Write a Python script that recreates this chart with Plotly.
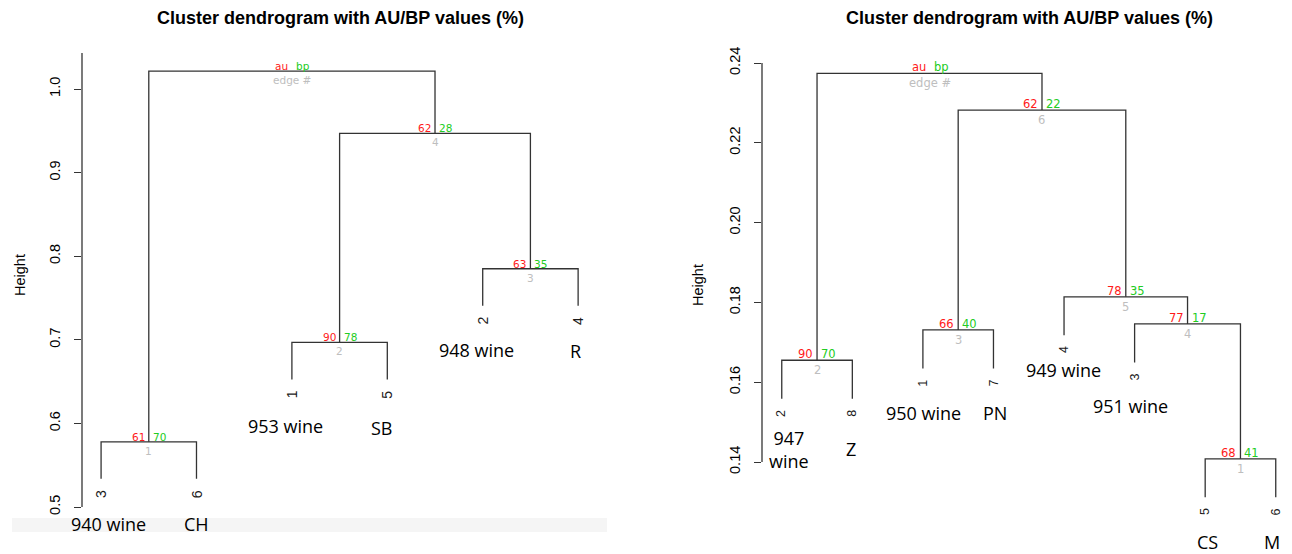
import plotly.graph_objects as go

# ---------------- data ----------------
# Left dendrogram
L_leaf_ids = [3, 6, 1, 5, 2, 4]                      # leaf numbers, in plotted order
L_leaf_names = ["940 wine", "CH", "953 wine", "SB", "948 wine", "R"]
L_merge = [[-3, -6], [-1, -5], [-2, -4], [2, 3], [1, 4]]   # hclust-style merges (edge # = row)
L_height = [0.578, 0.697, 0.785, 0.947, 1.0215]
L_au = [61, 90, 63, 62]
L_bp = [70, 78, 35, 28]
L_yticks = [0.5, 0.6, 0.7, 0.8, 0.9, 1.0]
L_yticklabels = ["0.5", "0.6", "0.7", "0.8", "0.9", "1.0"]

# Right dendrogram
R_leaf_ids = [2, 8, 1, 7, 4, 3, 5, 6]
R_leaf_names = ["947<br>wine", "Z", "950 wine", "PN", "949 wine", "951 wine", "CS", "M"]
R_merge = [[-5, -6], [-2, -8], [-1, -7], [-3, 1], [-4, 4], [3, 5], [2, 6]]
R_height = [0.1408, 0.1655, 0.1731, 0.1746, 0.1814, 0.2282, 0.2374]
R_au = [68, 90, 66, 77, 78, 62]
R_bp = [41, 70, 40, 17, 35, 22]
R_yticks = [0.14, 0.16, 0.18, 0.20, 0.22, 0.24]
R_yticklabels = ["0.14", "0.16", "0.18", "0.20", "0.22", "0.24"]

TITLE = "Cluster dendrogram with AU/BP values (%)"

# ---------------- layout / placement (not data) ----------------
W, H = 1292, 554
L_name_pos = [(1.073, 0.4797), (1.996, 0.4797), (2.929, 0.5969), (3.945, 0.5945),
              (4.931, 0.6878), (5.969, 0.6866)]
R_name_pos = [(1.106, 0.14313), (1.978, 0.14326), (3.012, 0.15228), (4.018, 0.15228),
              (4.996, 0.16306), (5.945, 0.15404), (7.037, 0.11995), (7.943, 0.11995)]

LINE_COL = "#333333"
AU_COL = "#FF1A1A"
BP_COL = "#22CC22"
EDGE_COL = "#BEBEBE"


def build(merge, height, leaf_ids):
    pos = {k: i + 1 for i, k in enumerate(leaf_ids)}
    hang = 0.1 * (max(height) - min(height))
    xs, ys = [], []
    node_x = {}
    leaf_end = {}
    for i, (a, b) in enumerate(merge):
        h = height[i]

        def child(c):
            if c < 0:
                leaf_end[-c] = h - hang
                return pos[-c], h - hang
            return node_x[c], height[c - 1]

        xa, ya = child(a)
        xb, yb = child(b)
        xs += [xa, xa, xb, xb, None]
        ys += [ya, h, h, yb, None]
        node_x[i + 1] = (xa + xb) / 2
    return xs, ys, node_x, leaf_end, pos


fig = go.Figure()
annotations = []


def panel(merge, height, leaf_ids, names, name_pos, au, bp, xr, yr, num_size, leaf_size):
    xs, ys, node_x, leaf_end, pos = build(merge, height, leaf_ids)
    fig.add_trace(go.Scatter(x=xs, y=ys, mode="lines", xaxis=xr, yaxis=yr,
                             line=dict(color=LINE_COL, width=1.3), hoverinfo="skip"))
    nf = "DejaVu Sans"
    n = len(merge)
    for i in range(n):
        cx, h = node_x[i + 1], height[i]
        if i < n - 1:
            t_au, t_bp, t_ed = str(au[i]), str(bp[i]), str(i + 1)
        else:
            t_au, t_bp, t_ed = "au", "bp", "edge #"
        annotations.append(dict(x=cx, y=h, xref=xr, yref=yr, text=t_au, showarrow=False,
                                xanchor="right", yanchor="bottom", xshift=-2, yshift=-3,
                                font=dict(family=nf, size=num_size, color=AU_COL)))
        annotations.append(dict(x=cx, y=h, xref=xr, yref=yr, text=t_bp, showarrow=False,
                                xanchor="left", yanchor="bottom", xshift=2, yshift=-3,
                                font=dict(family=nf, size=num_size, color=BP_COL)))
        annotations.append(dict(x=cx, y=h, xref=xr, yref=yr, text=t_ed, showarrow=False,
                                xanchor="center", yanchor="top", yshift=-1,
                                font=dict(family=nf, size=num_size, color=EDGE_COL)))
    for k in leaf_ids:
        annotations.append(dict(x=pos[k], y=leaf_end[k], xref=xr, yref=yr, text=str(k),
                                showarrow=False, textangle=-90, xanchor="center",
                                yanchor="top", yshift=-9,
                                font=dict(family="Liberation Sans", size=leaf_size, color="#1a1a1a")))
    for nm, (px, py) in zip(names, name_pos):
        annotations.append(dict(x=px, y=py, xref=xr, yref=yr, text=nm, showarrow=False,
                                xanchor="center", yanchor="middle", align="center",
                                font=dict(family="Open Sans", size=18, color="black")))


panel(L_merge, L_height, L_leaf_ids, L_leaf_names, L_name_pos, L_au, L_bp, "x", "y", 10.5, 14)
panel(R_merge, R_height, R_leaf_ids, R_leaf_names, R_name_pos, R_au, R_bp, "x2", "y2", 11.5, 12.5)

# titles and axis titles
for cx in (340, 1029):
    annotations.append(dict(x=cx / W, y=1 - 18 / H, xref="paper", yref="paper", text=TITLE,
                            showarrow=False, xanchor="center", yanchor="middle",
                            font=dict(family="Liberation Sans", size=18, color="black", weight="bold")))
for cx, cy in ((20, 275), (698, 285)):
    annotations.append(dict(x=cx / W, y=1 - cy / H, xref="paper", yref="paper", text="Height",
                            showarrow=False, textangle=-90, xanchor="center", yanchor="middle",
                            font=dict(family="Liberation Sans", size=14.5, color="black")))

yax_common = dict(showgrid=False, zeroline=False, showline=False, ticks="outside",
                  ticklen=7, tickwidth=1.2, tickcolor=LINE_COL, tickangle=-90,
                  ticklabelstandoff=8,
                  tickfont=dict(family="Liberation Sans", size=14.5, color="black"),
                  domain=[0, 1], fixedrange=True)

fig.update_layout(
    width=W, height=H, margin=dict(l=0, r=0, t=0, b=0),
    paper_bgcolor="white", plot_bgcolor="white", showlegend=False, hovermode=False,
    xaxis=dict(domain=[82 / W, 597.2 / W], range=[0.8, 6.2], visible=False),
    yaxis=dict(anchor="x", range=[0.44378, 1.10646], tickvals=L_yticks,
               ticktext=L_yticklabels, **yax_common),
    xaxis2=dict(domain=[762 / W, 1.0], range=[0.72, 0.72 + (W - 762) / 70.57], visible=False),
    yaxis2=dict(anchor="x2", range=[0.116942, 0.255789], tickvals=R_yticks,
                ticktext=R_yticklabels, **yax_common),
    annotations=annotations,
    shapes=[
        dict(type="rect", xref="paper", yref="paper", x0=12 / W, x1=607 / W,
             y0=1 - 532 / H, y1=1 - 518 / H, fillcolor="#f5f5f5", line=dict(width=0),
             layer="below"),
        dict(type="line", xref="x domain", yref="y", x0=0, x1=0, y0=0.5, y1=1.043,
             line=dict(color=LINE_COL, width=1.3)),
        dict(type="line", xref="x2 domain", yref="y2", x0=0, x1=0, y0=0.14, y1=0.24,
             line=dict(color=LINE_COL, width=1.3)),
    ],
)

fig.write_html("out.html", config={"displayModeBar": False},
               post_script="document.body.style.margin='0px';")
